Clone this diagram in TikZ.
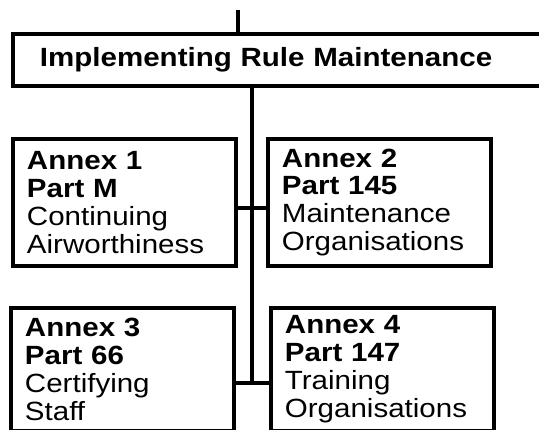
\documentclass[tikz,border=0pt]{standalone}
\usepackage{fontspec}
\setmainfont[FakeStretch=1.12]{Liberation Sans}
\usetikzlibrary{positioning}

\tikzset{
  rulebox/.style={draw, rectangle, line width=2pt, outer sep=0pt, anchor=north west,
    inner xsep=0.28cm, inner ysep=0pt, align=left, font=\fontsize{15}{15.9}\selectfont},
  annex/.style={rulebox, text width=3.9cm, minimum height=2.54cm},
  link/.style={line width=2pt},
}

\begin{document}
\begin{tikzpicture}[x=0.02cm, y=-0.02cm]
      \useasboundingbox (0,0) rectangle (539,430);
      \clip (0,0) rectangle (539,430);

      \node[rulebox, inner xsep=0.54cm, text width=9.86cm, minimum height=1.04cm,
        font=\fontsize{15}{15.9}\selectfont\bfseries] (rule) at (13,34) {Implementing Rule Maintenance};

      \node[annex] (annex1) at (13,139) {\textbf{Annex 1}\\\textbf{Part M}\\Continuing\\Airworthiness};
      \node[annex, right=0.64cm of annex1] (annex2) {\textbf{Annex 2}\\\textbf{Part 145}\\Maintenance\\Organisations};
      \node[annex, below=0.84cm of annex1, xshift=-0.04cm, minimum height=2.46cm] (annex3) {\textbf{Annex 3}\\\textbf{Part 66}\\Certifying\\Staff};
      \node[annex, right=0.74cm of annex3, minimum height=2.46cm] (annex4) {\textbf{Annex 4}\\\textbf{Part 147}\\Training\\Organisations};

      \coordinate (feed) at (238,10);
      \coordinate (mid) at (252,208);
      \coordinate (foot) at (252,383);

      \draw[link] (feed) -- (feed |- rule.north);
      \draw[link] (rule.south -| foot) -- (foot);
      \draw[link] (annex1.east |- mid) -- (annex2.west |- mid);
      \draw[link] (annex3.east |- foot) -- (annex4.west |- foot);
\end{tikzpicture}
\end{document}
